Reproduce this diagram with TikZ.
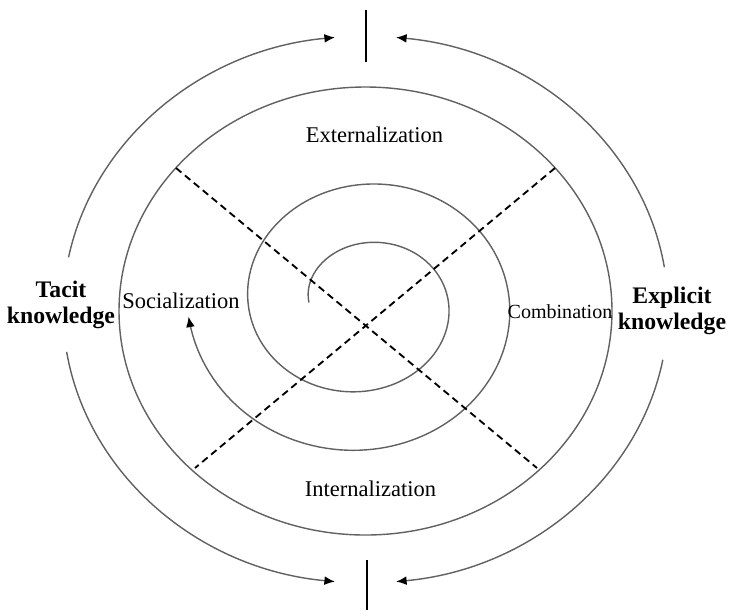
\documentclass[tikz,border=0pt]{standalone}
\usepackage{fontspec}
\setmainfont{Liberation Serif}
\usetikzlibrary{arrows.meta}

\begin{document}
\begin{tikzpicture}[x=0.02cm, y=-0.02cm,
        ringline/.style={draw=black!62, line width=0.8pt},
        divider/.style={black, line width=1.05pt, dash pattern=on 4pt off 2.6pt},
        knowbar/.style={black, line width=1.5pt},
        cyclearrow/.style={draw=black!62, line width=0.8pt, -{Latex[length=6pt, width=5pt, black]}},
        modelabel/.style={font=\fontsize{12.8}{14}\selectfont, inner sep=0pt},
        sidelabel/.style={font=\fontsize{13.5}{14.5}\selectfont\bfseries, align=center, inner sep=0pt}]
        \useasboundingbox (0,0) rectangle (730,610);

        % Define the centres of the outer ring and of the big arcs
        \coordinate (ringc) at (365.5,311);
        \coordinate (bigc) at (365.5,309.5);

        % Draw the outer ring
        \draw[ringline] (ringc) ellipse [x radius=246.5, y radius=224];

        % Draw the spiral, it ends in the arrow below Socialization
        \draw[cyclearrow] plot[domain=180:895, samples=300, variable=\t]
            ({363.5+(54.5+0.1694*(\t-180))*cos(\t)}, {302.5+(59.5+0.163*(\t-270))*sin(\t)});

        % Define the ends of the dashed dividers on the ring
        \coordinate (cutnw) at (176,168);
        \coordinate (cutne) at (555,168);
        \coordinate (cutsw) at (195,468);
        \coordinate (cutse) at (537,468);
        \draw[divider] (cutnw) -- (cutse);
        \draw[divider] (cutne) -- (cutsw);

        % Draw the big arcs between tacit and explicit knowledge
        \foreach \from/\to in {191/264.2, 351.1/275.8, 171.1/95.8, 10.6/84.2}{
            \draw[cyclearrow] ([shift={(\from:302.5 and 273.5)}]bigc)
                arc[start angle=\from, end angle=\to, x radius=302.5, y radius=273.5];
        }

        % Draw the bars at the top and at the bottom
        \coordinate (topbar-a) at (366,10);
        \coordinate (topbar-b) at (366,62);
        \coordinate (botbar-a) at (367,560);
        \coordinate (botbar-b) at (367,610);
        \draw[knowbar] (topbar-a) -- (topbar-b);
        \draw[knowbar] (botbar-a) -- (botbar-b);

        % Add the four modes
        \node[modelabel, anchor=base] (ext) at (374.5,142) {Externalization};
        \node[modelabel, anchor=base] (int) at (370.5,496) {Internalization};
        \node[modelabel, anchor=base] (soc) at (181,308) {Socialization};
        \node[modelabel, anchor=base, font=\fontsize{11.4}{13}\selectfont] (comb) at (560,318) {Combination};

        % Add the two kinds of knowledge
        \node[sidelabel] (tacit) at (61,305) {Tacit\\knowledge};
        \node[sidelabel] (explicit) at (672,311) {Explicit\\knowledge};
    \end{tikzpicture}
\end{document}
